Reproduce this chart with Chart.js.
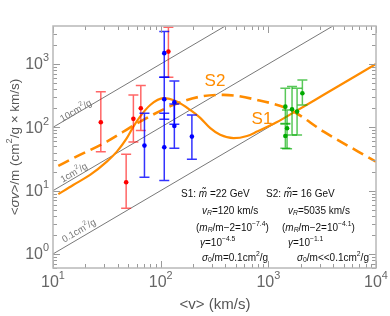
<!DOCTYPE html>
<html>
<head>
<meta charset="utf-8">
<script src="https://cdn.jsdelivr.net/npm/chart.js@4/dist/chart.umd.min.js"></script>
<style>
html,body{margin:0;padding:0;background:#fff;}
canvas{display:block;}
</style>
</head>
<body>
<canvas id="myChart" width="390" height="316"></canvas>
<script>
// dwarfs (red)
const redV  = [27.8, 47.8, 55.8, 65.4, 118]
const redY  = [120, 13.6, 136, 200, 1570]
const redLo = [41.3, 5.27, 58.8, 88.7, 618]
const redHi = [366, 37.6, 325, 456, 3811]

// LSBs (blue)
const blueV  = [70.7, 108, 108, 108, 134, 134, 195]
const blueY  = [51.4, 1482, 278, 48.5, 249, 105, 71.3]
const blueLo = [16.3, 618, 134, 14.4, 112, 46.7, 31.3]
const blueHi = [167, 3250, 618, 167, 541, 234, 157]

// clusters (green)
const greenV  = [1439, 1493, 1439, 1660, 1849, 2071]
const greenY  = [212, 96.8, 73.1, 193, 177, 346]
const greenLo = [115, 46, 46.7, 75.9, 75.9, 226]
const greenHi = [415, 188, 113, 440, 415, 561]

// model curves
const s1V = [11.2, 15.4, 22.1, 31.6, 39.2, 48.5, 55.8, 64.4, 80, 106, 141, 188, 233, 289, 357, 476, 634, 785, 1205, 1603, 3268, 10000]
const s1Y = [8.8, 12.3, 17.7, 28.7, 41.3, 67.3, 102.6, 147.6, 225, 288, 255, 188, 141, 97, 76, 67.3, 73, 85.5, 121, 160, 326, 1000]
const s2V = [11.2, 15.4, 31.6, 64.4, 131.5, 233, 384, 785, 1603, 3268, 10000]
const s2Y = [24.6, 32.5, 59.4, 123, 226, 305, 325, 271, 188, 85.5, 28.7]

// constant sigma/m lines (cm^2/g)
const sigmaLabels = ['10cm²/g', '1cm²/g', '0.1cm²/g']
const sigmaV = [10, 10000]
const sigma10 = [100, 100000]
const sigma1 = [10, 10000]
const sigma01 = [1, 1000]

const xTicks = [10, 100, 1000, 10000]
const xTickExp = ['1', '2', '3', '4']
const yTicks = [1, 10, 100, 1000]
const yTickExp = ['0', '1', '2', '3']

const FONT = '"Liberation Sans", Arial, Helvetica, sans-serif'
const ORANGE = '#ff8c00'

const pts = (xs, ys) => xs.map((v, i) => ({x: v, y: ys[i]}))

// draw text made of segments: {t, i (italic), s (1 sup, -1 sub)}
function rich(ctx, segs, x, y, size, align) {
    const font = (seg) => {
        const sz = seg.s ? size * 0.68 : size
        return (seg.i ? 'italic ' : '') + sz + 'px ' + FONT
    }
    let w = 0
    segs.forEach(seg => { ctx.font = font(seg); w += ctx.measureText(seg.t).width })
    let cx = x
    if (align === 'center') cx = x - w / 2
    if (align === 'right') cx = x - w
    ctx.textBaseline = 'middle'
    ctx.textAlign = 'left'
    segs.forEach(seg => {
        ctx.font = font(seg)
        let dy = 0
        if (seg.s === 1) dy = -size * 0.42
        if (seg.s === -1) dy = size * 0.25
        ctx.fillText(seg.t, cx, y + dy)
        cx += ctx.measureText(seg.t).width
    })
}

const errorBars = {
    id: 'errorBars',
    beforeDatasetDraw(chart, args) {
        const ds = chart.data.datasets[args.index]
        if (!ds.lo) return
        const {ctx, scales: {x, y}} = chart
        ctx.save()
        ctx.strokeStyle = ds.barColor
        ctx.lineWidth = 1.5
        ds.data.forEach((p, i) => {
            const px = x.getPixelForValue(p.x)
            const top = y.getPixelForValue(ds.hi[i])
            const bot = y.getPixelForValue(ds.lo[i])
            ctx.beginPath()
            ctx.moveTo(px, top); ctx.lineTo(px, bot)
            ctx.moveTo(px - 5, top); ctx.lineTo(px + 5, top)
            ctx.moveTo(px - 5, bot); ctx.lineTo(px + 5, bot)
            ctx.stroke()
        })
        ctx.restore()
    }
}

const frame = {
    id: 'frame',
    afterDraw(chart) {
        const {ctx, chartArea: a, scales: {x, y}} = chart
        ctx.save()
        // ticks on all four sides
        ctx.strokeStyle = '#9a9a9a'
        ctx.lineWidth = 1
        for (let d = 1; d <= 4; d++) {
            for (let k = 1; k <= 9; k++) {
                const v = k * Math.pow(10, d)
                if (v > 10000) continue
                const px = Math.round(x.getPixelForValue(v)) + 0.5
                const len = k === 1 ? 7 : 4
                ctx.beginPath()
                ctx.moveTo(px, a.bottom); ctx.lineTo(px, a.bottom - len)
                ctx.moveTo(px, a.top); ctx.lineTo(px, a.top + len)
                ctx.stroke()
            }
        }
        for (let d = -1; d <= 3; d++) {
            for (let k = 1; k <= 9; k++) {
                const v = k * Math.pow(10, d)
                if (v < 0.6 || v > 3981) continue
                const py = Math.round(y.getPixelForValue(v)) + 0.5
                const len = k === 1 ? 7 : 4
                ctx.beginPath()
                ctx.moveTo(a.left, py); ctx.lineTo(a.left + len, py)
                ctx.moveTo(a.right, py); ctx.lineTo(a.right - len, py)
                ctx.stroke()
            }
        }
        ctx.strokeStyle = '#b8b8b8'
        ctx.lineWidth = 1.5
        ctx.strokeRect(a.left, a.top, a.right - a.left, a.bottom - a.top)

        // tick labels
        ctx.fillStyle = '#666'
        xTicks.forEach((v, i) => {
            rich(ctx, [{t: '10'}, {t: xTickExp[i], s: 1}], x.getPixelForValue(v), a.bottom + 15, 16, 'center')
        })
        yTicks.forEach((v, i) => {
            rich(ctx, [{t: '10'}, {t: yTickExp[i], s: 1}], a.left - 4, y.getPixelForValue(v) + 1, 16, 'right')
        })

        // axis titles
        ctx.fillStyle = '#555'
        rich(ctx, [{t: '<v> (km/s)'}], 215, 305, 15, 'center')
        ctx.save()
        ctx.translate(15, 147)
        ctx.rotate(-Math.PI / 2)
        rich(ctx, [{t: '<'}, {t: 'σv', i: 1}, {t: '>/m (cm'}, {t: '2', s: 1}, {t: '/g × km/s)'}], 0, 0, 13.5, 'center')
        ctx.restore()

        // labels along the constant sigma/m lines
        const ang = Math.atan2(y.getPixelForValue(100) - y.getPixelForValue(10), x.getPixelForValue(100) - x.getPixelForValue(10))
        ctx.fillStyle = '#777'
        const labPos = [[76, 111], [74, 173], [79, 231]]
        sigmaLabels.forEach((lab, i) => {
            const m = lab.match(/^(.*cm)²(\/g)$/)
            ctx.save()
            ctx.translate(labPos[i][0], labPos[i][1])
            ctx.rotate(ang)
            rich(ctx, [{t: m[1]}, {t: '2', s: 1}, {t: m[2]}], 0, 0, 9.5, 'center')
            ctx.restore()
        })

        // curve labels
        ctx.fillStyle = ORANGE
        rich(ctx, [{t: 'S2'}], 215, 81, 17, 'center')
        rich(ctx, [{t: 'S1'}], 262, 119, 17, 'center')

        // parameter text
        ctx.fillStyle = '#111'
        const fs = 10
        const s1 = [
            [[{t: 'S1: '}, {t: 'm̃', i: 1}, {t: ' =22 GeV'}], 181, 194],
            [[{t: 'v', i: 1}, {t: 'R', i: 1, s: -1}, {t: '=120 km/s'}], 202, 211],
            [[{t: '('}, {t: 'm', i: 1}, {t: 'R', i: 1, s: -1}, {t: '/m−2=10'}, {t: '−7.4', s: 1}, {t: ')'}], 196, 228],
            [[{t: 'γ', i: 1}, {t: '=10'}, {t: '−4.5', s: 1}], 200, 243],
            [[{t: 'σ', i: 1}, {t: '0', s: -1}, {t: '/m=0.1cm'}, {t: '2', s: 1}, {t: '/g'}], 202, 258]
        ]
        const s2 = [
            [[{t: 'S2: '}, {t: 'm̃', i: 1}, {t: '= 16 GeV'}], 266, 194],
            [[{t: 'v', i: 1}, {t: 'R', i: 1, s: -1}, {t: '=5035 km/s'}], 288, 211],
            [[{t: '('}, {t: 'm', i: 1}, {t: 'R', i: 1, s: -1}, {t: '/m−2=10'}, {t: '−4.1', s: 1}, {t: ')'}], 282, 228],
            [[{t: 'γ', i: 1}, {t: '=10'}, {t: '−1.1', s: 1}], 288, 243],
            [[{t: 'σ', i: 1}, {t: '0', s: -1}, {t: '/m<<0.1cm'}, {t: '2', s: 1}, {t: '/g'}], 297, 258]
        ]
        s1.concat(s2).forEach(l => rich(ctx, l[0], l[1], l[2], fs, 'left'))
        ctx.restore()
    }
}

const ctx = document.getElementById('myChart').getContext('2d')
const myChart = new Chart(ctx, {
    type: 'scatter',
    data: {
        datasets: [
            {data: pts(greenV, greenY), lo: greenLo, hi: greenHi, barColor: 'rgba(0,170,0,0.65)',
             backgroundColor: '#00aa00', borderWidth: 0, pointRadius: 2.3},
            {data: pts(blueV, blueY), lo: blueLo, hi: blueHi, barColor: 'rgba(0,0,255,0.8)',
             backgroundColor: '#0000ff', borderWidth: 0, pointRadius: 2.3},
            {data: pts(redV, redY), lo: redLo, hi: redHi, barColor: 'rgba(255,0,0,0.6)',
             backgroundColor: '#ff0000', borderWidth: 0, pointRadius: 2.3},
            {type: 'line', data: pts(s1V, s1Y), borderColor: ORANGE, borderWidth: 2.2,
             pointRadius: 0, cubicInterpolationMode: 'monotone', fill: false},
            {type: 'line', data: pts(s2V, s2Y), borderColor: ORANGE, borderWidth: 2.6, borderDash: [12, 6],
             pointRadius: 0, cubicInterpolationMode: 'monotone', fill: false},
            {type: 'line', data: pts(sigmaV, sigma10), borderColor: '#555', borderWidth: 0.8, pointRadius: 0},
            {type: 'line', data: pts(sigmaV, sigma1), borderColor: '#555', borderWidth: 0.8, pointRadius: 0},
            {type: 'line', data: pts(sigmaV, sigma01), borderColor: '#555', borderWidth: 0.8, pointRadius: 0}
        ]
    },
    options: {
        responsive: false,
        animation: false,
        layout: {padding: {left: 53, top: 26, right: 14, bottom: 48}},
        plugins: {legend: {display: false}, tooltip: {enabled: false}},
        scales: {
            x: {type: 'logarithmic', min: 10, max: 10000, display: false},
            y: {type: 'logarithmic', min: 0.6, max: 3981, display: false}
        }
    },
    plugins: [errorBars, frame]
})
</script>
</body>
</html>
